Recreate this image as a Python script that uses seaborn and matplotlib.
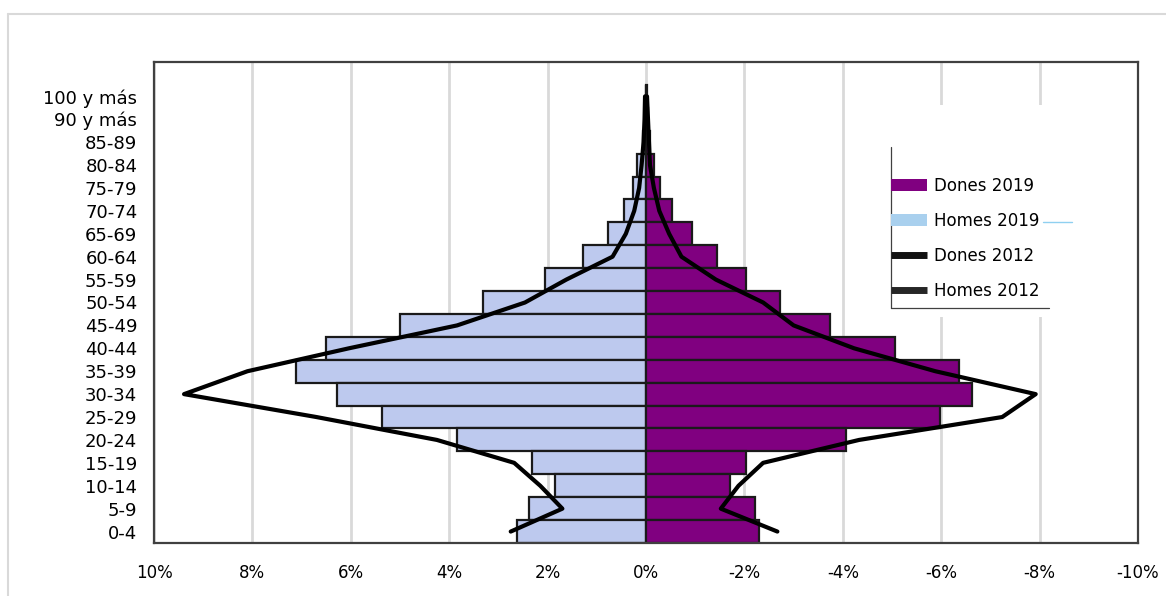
import numpy as np
import pandas as pd
import matplotlib
matplotlib.use("Agg")
import matplotlib.pyplot as plt
import seaborn as sns
from matplotlib.patches import Patch, Rectangle
from matplotlib.lines import Line2D

# age groups, bottom to top
edats = ["0-4", "5-9", "10-14", "15-19", "20-24", "25-29", "30-34", "35-39",
         "40-44", "45-49", "50-54", "55-59", "60-64", "65-69", "70-74",
         "75-79", "80-84", "85-89", "90 y más", "100 y más"]

# % of population (men on the left as positive, women on the right as negative)
homes_2019 = [2.62, 2.38, 1.86, 2.32, 3.84, 5.36, 6.28, 7.11, 6.51, 5.00,
              3.31, 2.06, 1.28, 0.78, 0.45, 0.26, 0.19, 0.07, 0.03, 0.01]
dones_2019 = [-2.30, -2.22, -1.71, -2.03, -4.06, -5.98, -6.62, -6.36, -5.06, -3.73,
              -2.72, -2.03, -1.44, -0.93, -0.52, -0.28, -0.16, -0.08, -0.04, -0.01]
homes_2012 = [2.75, 1.70, 2.15, 2.68, 4.25, 6.70, 9.39, 8.10, 6.04, 3.84,
              2.46, 1.62, 0.68, 0.41, 0.24, 0.14, 0.09, 0.05, 0.03, 0.02]
dones_2012 = [-2.67, -1.52, -1.88, -2.38, -4.33, -7.24, -7.92, -5.88, -4.23, -3.00,
              -2.38, -1.42, -0.72, -0.47, -0.27, -0.16, -0.08, -0.06, -0.04, -0.02]

xticks = [10, 8, 6, 4, 2, 0, -2, -4, -6, -8, -10]

sns.set_style("white")
plt.rcParams["font.family"] = ["DejaVu Sans"]

fig = plt.figure(figsize=(11.66, 5.96), dpi=100)
ax = fig.add_axes([0.1321, 0.0889, 0.8439, 0.8071])

# 2019 bars
df = pd.DataFrame({
    "edat": edats * 2,
    "valor": homes_2019 + dones_2019,
    "serie": ["Homes 2019"] * len(edats) + ["Dones 2019"] * len(edats),
})
sns.barplot(data=df, x="valor", y="edat", hue="serie", order=edats[::-1],
            palette={"Homes 2019": "#bdc9ee", "Dones 2019": "#800080"},
            saturation=1, dodge=False, width=1.0, edgecolor="#1a1a1a",
            linewidth=1.6, legend=False, ax=ax, zorder=2)

# 2012 lines (category positions: top = 0)
pos = np.arange(len(edats))[::-1]
sns.lineplot(x=homes_2012, y=pos, sort=False, estimator=None, color="black",
             linewidth=3.0, ax=ax, zorder=4)
sns.lineplot(x=dones_2012, y=pos, sort=False, estimator=None, color="black",
             linewidth=3.0, ax=ax, zorder=4)

ax.set_xlim(10, -10)
ax.set_ylim(len(edats) - 0.5, -1.5)
ax.set_xticks(xticks)
ax.set_xticklabels([f"{t}%" for t in xticks])
ax.set_xlabel("")
ax.set_ylabel("")
ax.tick_params(axis="x", length=0, pad=15, labelsize=12, labelcolor="black")
ax.tick_params(axis="y", length=0, pad=12, labelsize=13, labelcolor="black")

ax.set_axisbelow(True)
ax.xaxis.grid(True, color="#d9d9d9", linewidth=2)
ax.yaxis.grid(False)
for s in ax.spines.values():
    s.set_visible(True)
    s.set_color("#404040")
    s.set_linewidth(1.6)

# legend background (covers grid lines)
ax.add_patch(Rectangle((0.728, 0.47), 0.235, 0.44, transform=ax.transAxes,
                       facecolor="white", edgecolor="none", zorder=1))

handles = [
    Patch(facecolor="#800080", edgecolor="none"),
    Patch(facecolor="#a9d0ee", edgecolor="none"),
    Line2D([], [], color="#111111", linewidth=5, solid_capstyle="butt"),
    Line2D([], [], color="#262626", linewidth=5, solid_capstyle="butt"),
]
labels = ["Dones 2019", "Homes 2019", "Dones 2012", "Homes 2012"]
leg = ax.legend(handles, labels, loc="upper left", bbox_to_anchor=(0.749, 0.761),
                frameon=False, fontsize=12, labelspacing=1.02, handlelength=2.15,
                handletextpad=0.4, borderpad=0, borderaxespad=0)
for t in leg.get_texts():
    t.set_color("black")

# partial legend frame (left and bottom only)
ax.add_line(Line2D([0.7490, 0.7490], [0.488, 0.823], transform=ax.transAxes,
                   color="#404040", linewidth=0.9, clip_on=False, zorder=5))
ax.add_line(Line2D([0.7490, 0.9095], [0.488, 0.488], transform=ax.transAxes,
                   color="#404040", linewidth=0.9, clip_on=False, zorder=5))
ax.add_line(Line2D([0.903, 0.933], [0.667, 0.667], transform=ax.transAxes,
                   color="#8fd0f0", linewidth=1.0, clip_on=False, zorder=5))

# light chart border
fig.add_artist(Line2D([8 / 1166, 1.0], [1 - 14 / 596, 1 - 14 / 596],
                      transform=fig.transFigure, color="#d9d9d9", linewidth=1.5))
fig.add_artist(Line2D([8 / 1166, 8 / 1166], [0, 1 - 14 / 596],
                      transform=fig.transFigure, color="#d9d9d9", linewidth=1.5))

fig.savefig("out.png", dpi=100)
